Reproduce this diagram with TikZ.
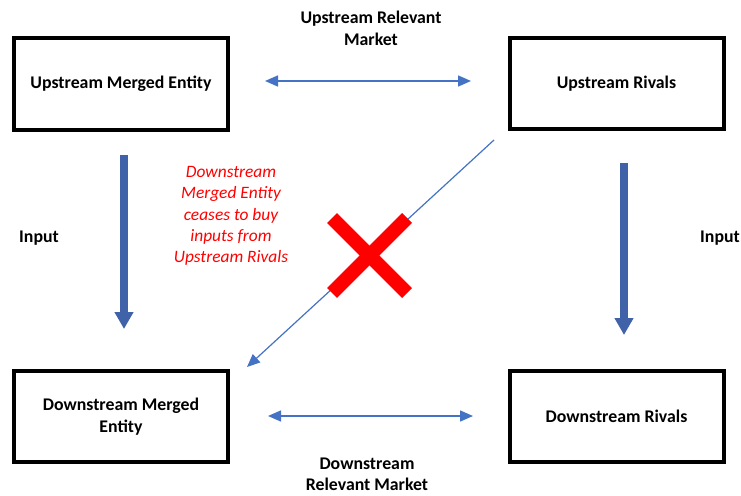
\documentclass[tikz,border=0pt]{standalone}
\usepackage{fontspec}
\setmainfont{Carlito}
\usetikzlibrary{arrows.meta}
\definecolor{thinblue}{RGB}{68,114,196}
\definecolor{thickblue}{RGB}{63,98,168}
\tikzset{
  entity/.style={draw,line width=4pt,minimum width=214pt,minimum height=91pt,
    align=center,font=\fontsize{17.8}{21.5}\selectfont\bfseries},
  lbl/.style={align=center,font=\fontsize{17.8}{21.5}\selectfont\bfseries},
  market/.style={thinblue,line width=1.5pt,{Triangle[width=11pt,length=13pt]}-{Triangle[width=11pt,length=13pt]}},
  supply/.style={thickblue,line width=8pt,-{Triangle[width=18pt,length=17pt]}},
  cross/.style={red,line width=14pt}
}
\begin{document}
\begin{tikzpicture}[x=1pt,y=-1pt]
      \useasboundingbox (0,0) rectangle (741,495);
      \draw
        (121,84) node[entity] (ume){Upstream Merged Entity}
        (616.5,83.5) node[entity] (ur){Upstream Rivals}
        (121,416.5) node[entity] (dme){Downstream Merged\\Entity}
        (616.5,416.5) node[entity] (dr){Downstream Rivals};
      \draw
        (371,28.5) node[lbl] (upmkt){Upstream Relevant\\Market}
        (367,474.5) node[lbl] (downmkt){Downstream\\Relevant Market}
        (39,238) node[lbl] (inl){Input}
        (720,238) node[lbl] (inr){Input}
        (231,216) node[align=center,red,font=\fontsize{17.4}{21.2}\selectfont\itshape] (note)
          {Downstream\\Merged Entity\\ceases to buy\\inputs from\\Upstream Rivals};
      \coordinate (um1) at (265,81);
      \coordinate (um2) at (471,81);
      \coordinate (dm1) at (268,416);
      \coordinate (dm2) at (473,416);
      \coordinate (s1) at (124,155);
      \coordinate (s2) at (124,329);
      \coordinate (r1) at (624,163);
      \coordinate (r2) at (624,335);
      \coordinate (d1) at (494,140);
      \coordinate (d2) at (247,367);
      \begin{scope}
        \draw[market] (um1) -- (um2);
        \draw[market] (dm1) -- (dm2);
        \draw[supply] (s1) -- (s2);
        \draw[supply] (r1) -- (r2);
        \draw[thinblue,line width=1.2pt,-{Triangle[width=11pt,length=13pt]}] (d1) -- (d2);
      \end{scope}
      \draw[cross] (332,218) -- (407,293);
      \draw[cross] (332,293) -- (407,218);
    \end{tikzpicture}
\end{document}
